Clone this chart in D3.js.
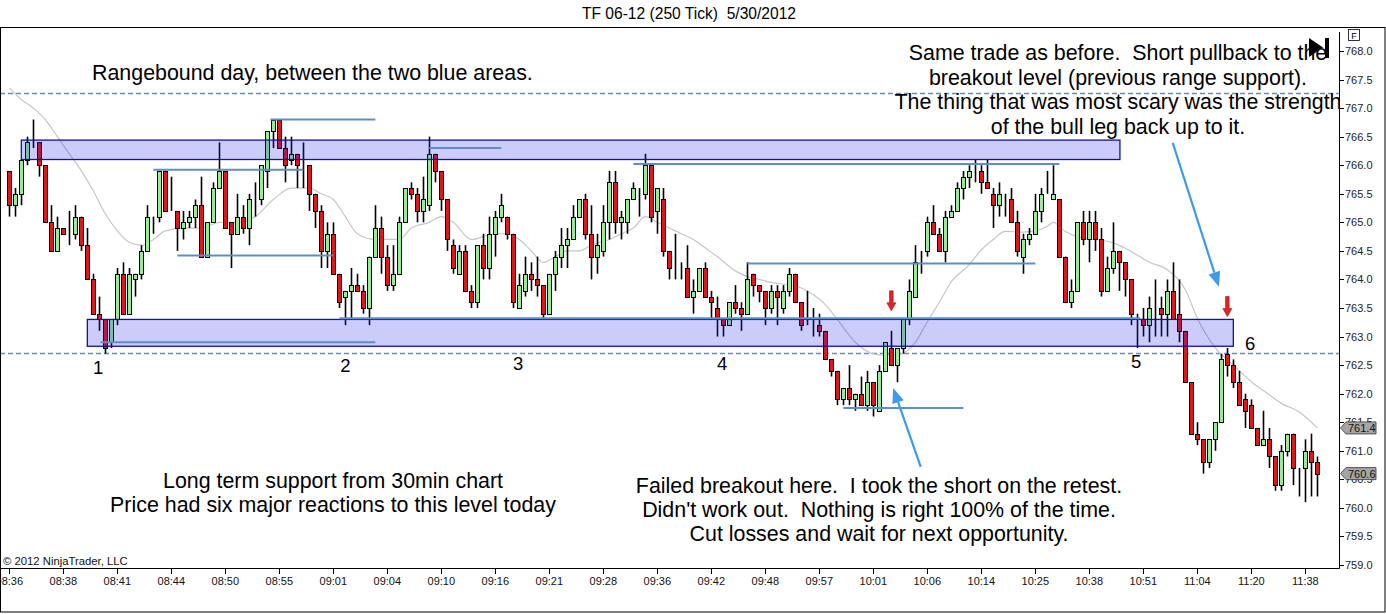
<!DOCTYPE html>
<html>
<head>
<meta charset="utf-8">
<script src="https://cdn.jsdelivr.net/npm/d3@7"></script>
<style>
    body { margin: 0; background: #fff; }
    svg { display: block; font-family: Arial, "Liberation Sans", sans-serif; }
    text { white-space: pre; }
</style>
</head>
<body>
<svg id="chart" width="1386" height="614"></svg>
<script>
// TF 06-12, 250 tick bars: [open, high, low, close]
const bars = [
    [765.9, 765.9, 765.1, 765.3], [765.3, 765.6, 765.1, 765.5], [765.5, 766.1, 765.3, 766.1], [766.1, 766.5, 766.0, 766.4],
    [766.4, 766.8, 766.3, 766.4], [766.4, 766.4, 765.8, 766.0], [766.0, 766.0, 765.0, 765.0], [765.0, 765.3, 764.5, 764.5],
    [764.5, 765.1, 764.5, 764.9], [764.9, 764.9, 764.8, 764.8], [764.8, 765.2, 764.6, 764.8], [764.8, 765.3, 764.7, 765.1],
    [765.1, 765.1, 764.5, 764.6], [764.6, 764.9, 764.0, 764.0], [764.0, 764.1, 763.4, 763.4], [763.4, 763.7, 763.1, 763.3],
    [763.3, 763.3, 762.7, 762.8], [762.9, 763.3, 762.8, 763.3], [763.3, 764.2, 763.2, 764.1], [764.1, 764.3, 763.4, 763.4],
    [763.4, 764.2, 763.4, 764.1], [764.0, 764.1, 763.7, 764.1], [764.1, 764.6, 764.0, 764.5], [764.5, 765.3, 764.5, 765.1],
    [765.1, 765.1, 764.8, 765.1], [765.1, 765.9, 765.0, 765.9], [765.9, 765.9, 765.2, 765.2], [765.2, 765.8, 765.2, 765.2],
    [765.2, 765.2, 764.5, 764.9], [764.9, 765.2, 764.7, 765.0], [765.0, 765.2, 764.9, 765.1], [765.1, 765.4, 764.9, 765.3],
    [765.3, 765.8, 764.4, 764.4], [764.4, 765.0, 764.4, 765.0], [765.0, 765.7, 765.0, 765.6], [765.6, 766.4, 765.6, 765.9],
    [765.9, 765.9, 764.9, 764.9], [765.0, 765.0, 764.2, 764.8], [764.8, 765.5, 764.8, 765.1], [765.1, 765.3, 764.8, 764.9],
    [764.9, 765.5, 764.6, 765.4], [765.4, 765.7, 765.1, 765.4], [765.4, 766.0, 765.3, 766.0], [765.9, 766.6, 765.6, 766.6],
    [766.6, 766.8, 766.3, 766.8], [766.8, 766.8, 766.3, 766.3], [766.3, 766.5, 765.7, 766.0], [766.1, 766.5, 766.0, 766.2],
    [766.2, 766.2, 765.6, 766.0], [766.0, 766.4, 765.6, 766.0], [766.0, 766.0, 765.2, 765.5], [765.5, 765.5, 764.9, 765.2],
    [765.2, 765.3, 764.2, 764.5], [764.5, 765.0, 764.2, 764.8], [764.8, 765.0, 764.1, 764.1], [764.1, 764.1, 763.5, 763.6],
    [763.7, 763.8, 763.2, 763.8], [763.8, 764.2, 763.3, 763.9], [763.9, 764.1, 763.8, 763.8], [763.8, 763.9, 763.4, 763.5],
    [763.5, 764.4, 763.2, 764.4], [764.4, 765.3, 764.4, 764.9], [764.9, 765.1, 764.1, 764.4], [764.4, 764.6, 763.8, 763.9],
    [763.9, 764.6, 763.8, 764.1], [764.1, 765.1, 764.1, 765.0], [765.0, 765.6, 765.0, 765.6], [765.6, 765.7, 765.4, 765.5],
    [765.5, 765.6, 765.0, 765.2], [765.2, 765.8, 765.0, 765.4], [765.3, 766.5, 765.2, 766.2], [766.2, 766.2, 765.7, 765.9],
    [765.9, 765.9, 765.2, 765.4], [765.4, 765.4, 764.5, 764.7], [764.6, 764.7, 764.1, 764.2], [764.1, 764.6, 764.1, 764.5],
    [764.5, 764.6, 763.8, 763.8], [763.8, 763.9, 763.5, 763.6], [763.6, 764.6, 763.5, 764.6], [764.6, 764.8, 764.0, 764.2],
    [764.2, 765.1, 764.0, 764.8], [764.8, 765.2, 764.4, 765.1], [765.1, 765.5, 765.0, 765.3], [765.1, 765.1, 764.7, 764.8],
    [764.8, 764.8, 763.5, 763.6], [763.5, 764.1, 763.5, 763.9], [763.8, 764.4, 763.7, 764.1], [764.1, 764.3, 763.8, 764.0],
    [764.0, 764.4, 763.7, 763.9], [763.9, 763.9, 763.3, 763.4], [763.4, 764.1, 763.4, 764.1], [764.1, 764.5, 763.8, 764.4],
    [764.4, 764.9, 764.2, 764.6], [764.6, 764.9, 764.2, 764.7], [764.7, 765.3, 764.7, 765.1], [765.1, 765.4, 765.1, 765.4],
    [765.4, 765.5, 764.7, 764.8], [764.8, 765.3, 764.0, 764.4], [764.4, 764.8, 764.1, 764.6], [764.5, 765.3, 764.4, 765.0],
    [765.0, 765.9, 764.7, 765.7], [765.7, 765.9, 764.8, 765.0], [765.0, 765.2, 764.7, 765.1], [765.0, 765.4, 764.8, 765.4],
    [765.4, 765.7, 765.4, 765.6], [765.5, 765.6, 765.1, 765.5], [765.5, 766.2, 765.4, 766.0], [766.0, 766.0, 765.0, 765.1],
    [765.2, 765.6, 764.8, 765.6], [765.4, 765.6, 764.4, 764.5], [764.5, 764.5, 764.0, 764.2], [764.2, 764.8, 764.0, 764.2],
    [764.2, 764.3, 764.0, 764.2], [764.2, 764.6, 763.7, 763.7], [763.7, 764.0, 763.4, 763.8], [763.8, 764.2, 763.8, 764.2],
    [764.2, 764.3, 763.7, 763.7], [763.7, 763.8, 763.3, 763.6], [763.5, 763.7, 763.0, 763.3], [763.3, 763.3, 763.0, 763.2],
    [763.2, 763.6, 763.2, 763.6], [763.6, 763.9, 763.4, 763.5], [763.5, 763.6, 763.1, 763.4], [763.4, 764.3, 763.4, 764.0],
    [764.1, 764.1, 763.7, 763.9], [763.9, 763.9, 763.6, 763.8], [763.8, 763.8, 763.2, 763.5], [763.5, 763.9, 763.4, 763.8],
    [763.8, 763.9, 763.2, 763.7], [763.5, 763.9, 763.4, 763.8], [763.8, 764.2, 763.7, 764.1], [764.1, 764.1, 763.6, 763.6],
    [763.6, 763.6, 763.1, 763.2], [763.2, 763.8, 763.2, 763.2], [763.2, 763.5, 763.0, 763.2], [763.2, 763.4, 763.0, 763.1],
    [763.1, 763.1, 762.6, 762.6], [762.6, 762.6, 762.3, 762.4], [762.4, 762.4, 761.8, 761.9], [761.9, 762.1, 761.8, 762.1],
    [762.1, 762.5, 761.8, 761.9], [761.9, 762.0, 761.7, 762.0], [762.0, 762.3, 761.8, 761.8], [761.8, 762.4, 761.7, 762.2],
    [762.2, 762.2, 761.6, 761.8], [761.7, 762.5, 761.7, 762.4], [762.4, 762.9, 762.4, 762.9], [762.8, 763.1, 762.5, 762.5],
    [762.5, 762.8, 762.2, 762.8], [762.8, 763.3, 762.7, 763.3], [763.3, 764.0, 763.2, 763.8], [763.7, 764.6, 763.7, 764.3],
    [764.4, 764.5, 764.1, 764.4], [764.5, 765.1, 764.4, 765.0], [765.0, 765.3, 764.8, 764.8], [764.8, 764.9, 764.5, 764.5],
    [764.5, 765.2, 764.3, 765.1], [765.1, 765.3, 765.1, 765.2], [765.2, 765.7, 765.2, 765.6], [765.6, 765.9, 765.4, 765.8],
    [765.8, 766.0, 765.6, 765.9], [765.9, 766.1, 765.7, 765.9], [765.9, 766.0, 765.5, 765.7], [765.7, 766.1, 765.6, 765.6],
    [765.5, 765.6, 764.9, 765.3], [765.3, 765.7, 765.1, 765.5], [765.5, 765.5, 765.1, 765.5], [765.4, 765.6, 765.0, 765.0],
    [765.0, 765.2, 764.4, 764.5], [764.4, 764.8, 764.1, 764.7], [764.7, 764.9, 764.6, 764.8], [764.8, 765.5, 764.8, 765.2],
    [765.2, 765.6, 765.0, 765.5], [765.5, 765.9, 765.5, 765.5], [765.4, 766.0, 765.4, 765.5], [765.4, 765.4, 764.4, 764.4],
    [764.4, 764.4, 763.6, 763.6], [763.6, 764.0, 763.5, 763.8], [763.8, 765.0, 763.8, 765.0], [765.0, 765.2, 764.6, 764.7],
    [764.7, 765.2, 764.3, 765.0], [765.0, 765.2, 764.5, 764.7], [764.7, 764.9, 763.7, 763.8], [763.8, 764.4, 763.8, 764.2],
    [764.2, 765.0, 764.1, 764.5], [764.5, 764.5, 763.8, 764.3], [764.3, 764.3, 763.7, 764.0], [764.0, 764.0, 763.2, 763.4],
    [763.3, 763.4, 762.8, 763.3], [763.3, 763.5, 763.0, 763.2], [763.2, 763.7, 762.9, 763.5], [763.5, 764.0, 763.0, 763.5],
    [763.5, 763.7, 763.0, 763.4], [763.4, 764.0, 763.0, 763.8], [763.8, 764.3, 763.3, 763.3], [763.4, 764.0, 762.9, 763.1],
    [763.1, 763.1, 762.2, 762.2], [762.2, 762.2, 761.3, 761.3], [761.3, 761.5, 761.1, 761.2], [761.2, 761.2, 760.6, 760.8],
    [760.8, 761.2, 760.7, 761.2], [761.2, 761.5, 761.0, 761.5], [761.5, 762.7, 761.5, 762.6], [762.7, 762.8, 762.3, 762.5],
    [762.5, 762.6, 762.1, 762.2], [762.2, 762.4, 761.8, 761.8], [761.9, 762.0, 761.4, 761.7], [761.8, 761.9, 761.4, 761.4],
    [761.4, 761.4, 761.1, 761.1], [761.1, 761.7, 761.1, 761.2], [761.2, 761.4, 760.7, 760.9], [760.9, 760.9, 760.3, 760.4],
    [760.4, 761.1, 760.3, 761.0], [761.0, 761.3, 760.9, 761.3], [761.3, 761.3, 760.4, 760.7], [760.7, 760.7, 760.2, 760.7],
    [760.7, 761.2, 760.1, 761.0], [761.0, 761.3, 760.2, 760.8], [760.8, 760.9, 760.2, 760.6]
];

// time labels, one every 9 bars starting at bar 0
const timeLabels = ['08:36', '08:38', '08:41', '08:44', '08:50', '08:55', '09:01', '09:04', '09:10',
    '09:16', '09:21', '09:28', '09:36', '09:42', '09:48', '09:57', '10:01', '10:06', '10:14',
    '10:25', '10:38', '10:51', '11:04', '11:20', '11:38'];
const labelEvery = 9;

// moving average line: bar index, value
const smaIndex = [0, 2, 4, 6, 8, 10, 12, 14, 16, 18, 20, 22, 24, 26, 29, 32, 35, 38, 41, 44, 47, 50, 52, 54,
    56, 58, 61, 63, 65, 67, 70, 72, 74, 77, 81, 83, 85, 87, 89, 91, 93, 95, 97, 100, 102, 104, 106, 108,
    110, 112, 114, 116, 118, 121, 123, 125, 127, 130, 132, 134, 136, 138, 141, 143, 145, 148, 151, 153,
    155, 157, 160, 162, 164, 166, 169, 171, 173, 174, 176, 178, 181, 184, 187, 190, 193, 196, 198, 201,
    204, 207, 210, 212, 215, 218];
const smaValue = [767.35, 767.15, 767.0, 766.8, 766.5, 766.2, 765.9, 765.55, 765.15, 764.85, 764.65, 764.6,
    764.7, 764.85, 764.9, 764.9, 765.0, 765.0, 765.1, 765.4, 765.6, 765.6, 765.5, 765.4, 765.1, 764.8,
    764.7, 764.7, 764.7, 764.9, 765.0, 765.1, 765.0, 764.7, 764.8, 764.8, 764.7, 764.5, 764.3, 764.4,
    764.5, 764.5, 764.6, 764.7, 764.8, 764.9, 765.1, 765.0, 764.9, 764.8, 764.7, 764.55, 764.4, 764.15,
    764.05, 764.0, 763.95, 763.9, 763.85, 763.73, 763.56, 763.3, 762.9, 762.74, 762.68, 762.68, 762.9,
    763.26, 763.6, 763.96, 764.26, 764.52, 764.7, 764.84, 764.83, 764.85, 764.93, 765.0, 764.84, 764.75,
    764.7, 764.64, 764.49, 764.3, 764.17, 763.82, 763.32, 762.8, 762.5, 762.21, 761.98, 761.83, 761.68, 761.4];

// range zones: bar from, bar to, upper price, lower price
const zoneFrom = [2, 13];
const zoneTo = [185.1, 204];
const zoneTop = [766.44, 763.30];
const zoneBottom = [766.10, 762.83];

// support / resistance rays: bar from, bar to, price
const rayFrom = [24, 28, 43.5, 70, 15.2, 55, 104, 123, 139];
const rayTo = [49, 54, 61, 82, 61, 188.5, 175, 171, 159];
const rayPrice = [765.92, 764.42, 766.8, 766.3, 762.9, 763.32, 766.02, 764.28, 761.75];

// long term support / resistance (dashed)
const levelPrices = [767.26, 762.72];

// entry markers (red down arrows): bar, tip price
const entryBars = [147, 203];
const entryTips = [763.45, 763.35];

// pointer arrows: tail bar, tail price, head bar, head price
const pointerTail = [[151.9, 760.72], [193.9, 766.39]];
const pointerHead = [[147.3, 762.10], [201.6, 763.87]];

// swing number labels
const swingLabels = ['1', '2', '3', '4', '5', '6'];
const swingBars = [14.8, 56, 84.8, 118.8, 187.8, 206.8];
const swingPrices = [762.34, 762.38, 762.41, 762.41, 762.45, 762.76];

const priceTicks = d3.range(759, 768.01, 0.5);
const lastClose = bars[bars.length - 1][3];
const lastSma = smaValue[smaValue.length - 1];

const svg = d3.select('#chart');
const panel = { left: 0, top: 28, right: 1339, bottom: 568 };

const x = d3.scaleLinear().domain([0, bars.length - 1]).range([9.33, 1317.33]);
const y = d3.scaleLinear().domain([759, 768]).range([565, 51]);
const px = (i) => Math.round(x(i)) + 0.5;
const py = (p) => Math.round(y(p)) + 0.5;

svg.append('defs').append('clipPath').attr('id', 'panel-clip')
    .append('rect')
    .attr('x', panel.left).attr('y', panel.top)
    .attr('width', panel.right - panel.left).attr('height', panel.bottom - panel.top);

// title
svg.append('text')
    .attr('x', 689).attr('y', 19)
    .attr('text-anchor', 'middle')
    .attr('font-size', 15.6)
    .text('TF 06-12 (250 Tick)  5/30/2012');

const plot = svg.append('g').attr('clip-path', 'url(#panel-clip)');

// dashed long term levels
plot.selectAll('line.level')
    .data(levelPrices)
    .join('line')
    .attr('class', 'level')
    .attr('x1', panel.left).attr('x2', panel.right)
    .attr('y1', d => py(d)).attr('y2', d => py(d))
    .attr('stroke', '#6f8ba8')
    .attr('stroke-width', 1.5)
    .attr('stroke-dasharray', '5,3');

// moving average
const smaLine = d3.line()
    .x((d, i) => x(smaIndex[i]))
    .y(d => y(d))
    .curve(d3.curveMonotoneX);

plot.append('path')
    .attr('d', smaLine(smaValue))
    .attr('fill', 'none')
    .attr('stroke', '#c6c6c6')
    .attr('stroke-width', 1.2);

// candles
const candles = plot.append('g').selectAll('g')
    .data(bars)
    .join('g');

candles.append('line')
    .attr('x1', (d, i) => px(i)).attr('x2', (d, i) => px(i))
    .attr('y1', d => y(d[1])).attr('y2', d => y(d[2]))
    .attr('stroke', '#000')
    .attr('stroke-width', 1.6);

candles.append('rect')
    .attr('x', (d, i) => px(i) - 2)
    .attr('width', 4)
    .attr('y', d => Math.round(y(Math.max(d[0], d[3]))) + 0.5)
    .attr('height', d => Math.abs(Math.round(y(d[0])) - Math.round(y(d[3]))))
    .attr('fill', d => d[3] > d[0] ? '#98ec98' : (d[3] < d[0] ? '#e0161a' : '#000'))
    .attr('stroke', '#000')
    .attr('stroke-width', 1);

// zones (semi transparent, over the candles)
plot.selectAll('rect.zone')
    .data(zoneTop)
    .join('rect')
    .attr('class', 'zone')
    .attr('x', (d, i) => x(zoneFrom[i]))
    .attr('width', (d, i) => x(zoneTo[i]) - x(zoneFrom[i]))
    .attr('y', d => y(d))
    .attr('height', (d, i) => y(zoneBottom[i]) - y(d))
    .attr('fill', 'rgba(40, 40, 240, 0.24)')
    .attr('stroke', '#12129a')
    .attr('stroke-width', 1.3);

// rays
plot.selectAll('line.ray')
    .data(rayPrice)
    .join('line')
    .attr('class', 'ray')
    .attr('x1', (d, i) => x(rayFrom[i])).attr('x2', (d, i) => x(rayTo[i]))
    .attr('y1', d => y(d)).attr('y2', d => y(d))
    .attr('stroke', '#5d8fc4')
    .attr('stroke-width', 2);

// red entry arrows
plot.selectAll('path.entry')
    .data(entryBars)
    .join('path')
    .attr('class', 'entry')
    .attr('d', (d, i) => {
        const cx = x(d), ty = y(entryTips[i]);
        return `M${cx - 1.8},${ty - 20} L${cx + 1.8},${ty - 20} L${cx + 1.8},${ty - 8} L${cx + 4.5},${ty - 8}`
            + ` L${cx},${ty} L${cx - 4.5},${ty - 8} L${cx - 1.8},${ty - 8} Z`;
    })
    .attr('fill', '#e02424')
    .attr('stroke', '#a01010')
    .attr('stroke-width', 0.6);

// blue pointer arrows
pointerTail.forEach((tail, i) => {
    const x0 = x(tail[0]), y0 = y(tail[1]);
    const x1 = x(pointerHead[i][0]), y1 = y(pointerHead[i][1]);
    const ang = Math.atan2(y1 - y0, x1 - x0);
    const len = 15, half = 6;
    const bx = x1 - len * Math.cos(ang), by = y1 - len * Math.sin(ang);
    plot.append('line')
        .attr('x1', x0).attr('y1', y0).attr('x2', bx).attr('y2', by)
        .attr('stroke', '#3d9be9').attr('stroke-width', 2.2);
    plot.append('path')
        .attr('d', `M${x1},${y1} L${bx + half * Math.sin(ang)},${by - half * Math.cos(ang)}`
            + ` L${bx - half * Math.sin(ang)},${by + half * Math.cos(ang)} Z`)
        .attr('fill', '#3d9be9');
});

// swing numbers
plot.selectAll('text.swing')
    .data(swingLabels)
    .join('text')
    .attr('class', 'swing')
    .attr('x', (d, i) => x(swingBars[i]))
    .attr('y', (d, i) => y(swingPrices[i]))
    .attr('text-anchor', 'middle')
    .attr('font-size', 18.5)
    .text(d => d);

// notes
function note(lines, cx, baseline, step, anchor) {
    plot.append('g').selectAll('text')
        .data(lines)
        .join('text')
        .attr('x', cx)
        .attr('y', (d, i) => baseline + i * step)
        .attr('text-anchor', anchor)
        .attr('font-size', 21.4)
        .attr('fill', '#000')
        .text(d => d);
}

note(['Rangebound day, between the two blue areas.'], 92, 80, 0, 'start');
note(['Same trade as before.  Short pullback to the',
      'breakout level (previous range support).',
      'The thing that was most scary was the strength',
      'of the bull leg back up to it.'], 1118, 60, 24.5, 'middle');
note(['Long term support from 30min chart',
      'Price had six major reactions to this level today'], 333, 488, 24, 'middle');
note(['Failed breakout here.  I took the short on the retest.',
      "Didn't work out.  Nothing is right 100% of the time.",
      'Cut losses and wait for next opportunity.'], 879, 493, 24, 'middle');

plot.append('text')
    .attr('x', 3).attr('y', 565)
    .attr('font-size', 11.3)
    .attr('fill', '#111')
    .text('\u00a9 2012 NinjaTrader, LLC');

// go-to-end button
plot.append('path')
    .attr('d', 'M1309,38 L1323,47.5 L1309,57 Z')
    .attr('fill', '#000');
plot.append('rect')
    .attr('x', 1325).attr('y', 38).attr('width', 4).attr('height', 20)
    .attr('fill', '#000');

// frame
svg.append('rect')
    .attr('x', 0.5).attr('y', panel.top - 0.5)
    .attr('width', 1384.5).attr('height', 612 - panel.top + 0.5)
    .attr('fill', 'none').attr('stroke', '#000');
svg.append('line')
    .attr('x1', 0).attr('x2', panel.right + 0.5)
    .attr('y1', panel.bottom + 0.5).attr('y2', panel.bottom + 0.5)
    .attr('stroke', '#000');
svg.append('line')
    .attr('x1', panel.right + 0.5).attr('x2', panel.right + 0.5)
    .attr('y1', 32).attr('y2', panel.bottom + 0.5)
    .attr('stroke', '#000');

// time axis
const timeAxis = svg.append('g');
const timeIdx = timeLabels.map((d, i) => i * labelEvery);
timeAxis.selectAll('line')
    .data(timeIdx)
    .join('line')
    .attr('x1', d => px(d)).attr('x2', d => px(d))
    .attr('y1', panel.bottom).attr('y2', panel.bottom + 6)
    .attr('stroke', '#000');
timeAxis.selectAll('text')
    .data(timeLabels)
    .join('text')
    .attr('x', (d, i) => x(timeIdx[i]))
    .attr('y', 585)
    .attr('text-anchor', 'middle')
    .attr('font-size', 11)
    .attr('fill', '#111')
    .text(d => d);

// price axis
const priceAxis = svg.append('g');
priceAxis.selectAll('line')
    .data(priceTicks)
    .join('line')
    .attr('x1', panel.right).attr('x2', panel.right + 5)
    .attr('y1', d => py(d)).attr('y2', d => py(d))
    .attr('stroke', '#000');
priceAxis.selectAll('text')
    .data(priceTicks)
    .join('text')
    .attr('x', panel.right + 6)
    .attr('y', d => y(d) + 4)
    .attr('font-size', 11)
    .attr('fill', '#222')
    .text(d => d3.format('.1f')(d));

// price tags for moving average and last close
[lastSma, lastClose].forEach((v) => {
    const cy = y(v);
    const g = svg.append('g');
    g.append('path')
        .attr('d', `M${panel.right + 1.5},${cy} L${panel.right + 7},${cy - 6} L${panel.right + 37},${cy - 6}`
            + ` L${panel.right + 37},${cy + 6} L${panel.right + 7},${cy + 6} Z`)
        .attr('fill', '#a6a6a6')
        .attr('stroke', '#333')
        .attr('stroke-width', 0.8);
    g.append('text')
        .attr('x', panel.right + 9)
        .attr('y', cy + 4)
        .attr('font-size', 11)
        .attr('fill', '#111')
        .text(d3.format('.1f')(v));
});

// "F" box
svg.append('rect')
    .attr('x', 1348.5).attr('y', 29.5).attr('width', 11).attr('height', 11)
    .attr('fill', '#fff').attr('stroke', '#000').attr('stroke-width', 0.8);
svg.append('text')
    .attr('x', 1354).attr('y', 38.5)
    .attr('text-anchor', 'middle')
    .attr('font-size', 9)
    .text('F');
</script>
</body>
</html>
